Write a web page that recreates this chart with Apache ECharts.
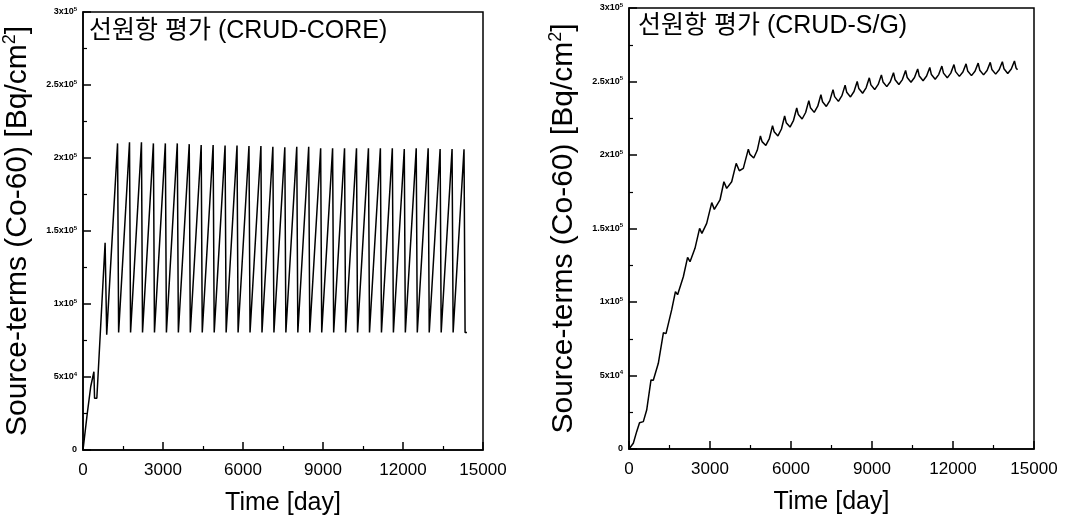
<!DOCTYPE html>
<html>
<head>
<meta charset="utf-8">
<script src="https://cdn.jsdelivr.net/npm/echarts@6/dist/echarts.min.js"></script>
<style>
html,body{margin:0;padding:0;background:#fff;}
#c{width:1068px;height:522px;}
</style>
</head>
<body>
<div id="c"></div>
<script>
// ---------------- data ----------------
const xTickValues = [0, 3000, 6000, 9000, 12000, 15000];
const xTickLabels = ['0', '3000', '6000', '9000', '12000', '15000'];
const yTickValues = [0, 50000, 100000, 150000, 200000, 250000, 300000];
const yTickMant = ['0', '5x10', '1x10', '1.5x10', '2x10', '2.5x10', '3x10'];
const yTickExp = ['', '4', '5', '5', '5', '5', '5'];

const titleLeft = '선원항 평가 (CRUD-CORE)';
const titleRight = '선원항 평가 (CRUD-S/G)';
const xTitle = 'Time [day]';

// CRUD-CORE (left)
const coreDays = [0, 160, 290, 409, 433, 519, 829, 889, 930,
  1296, 1336, 1406, 1744, 1784, 1854, 2192, 2232, 2302, 2640, 2680, 2750,
  3088, 3128, 3198, 3536, 3576, 3646, 3984, 4024, 4094, 4432, 4472, 4542,
  4880, 4920, 4990, 5328, 5368, 5438, 5776, 5816, 5886, 6224, 6264, 6334,
  6672, 6712, 6782, 7120, 7160, 7230, 7568, 7608, 7678, 8016, 8056, 8126,
  8464, 8504, 8574, 8912, 8952, 9022, 9360, 9400, 9470, 9808, 9848, 9918,
  10256, 10296, 10366, 10704, 10744, 10814, 11152, 11192, 11262, 11600, 11640, 11710,
  12048, 12088, 12158, 12496, 12536, 12606, 12944, 12984, 13054, 13392, 13432, 13502,
  13840, 13880, 13950, 14288, 14328, 14398];
const coreValues = [0, 25000, 43500, 53600, 35400, 35400, 142000, 79000, 79000,
  210000, 80500, 80500, 210700, 80500, 80500, 210700, 80500, 80500, 210000, 80500, 80500,
  210000, 80500, 80500, 210000, 80500, 80500, 209500, 80500, 80500, 208900, 80500, 80500,
  208900, 80500, 80500, 208500, 80500, 80500, 208500, 80500, 80500, 208200, 80500, 80500,
  208200, 80500, 80500, 207700, 80500, 80500, 207300, 80500, 80500, 207700, 80500, 80500,
  207700, 80500, 80500, 206600, 80500, 80500, 206600, 80500, 80500, 206600, 80500, 80500,
  206600, 80500, 80500, 206600, 80500, 80500, 206600, 80500, 80500, 206600, 80500, 80500,
  206200, 80500, 80500, 206600, 80500, 80500, 206600, 80500, 80500, 206200, 80500, 80500,
  206200, 80500, 80500, 206000, 80500, 80500];

// CRUD-S/G (right)
const sgDays = [0, 160, 284,
  390, 530, 655,
  815, 900, 1086,
  1275, 1370, 1580,
  1720, 1800, 2012,
  2170, 2260, 2444,
  2615, 2700, 2877,
  3065, 3160, 3370,
  3515, 3618, 3803,
  3970, 4086, 4234,
  4420, 4480, 4620, 4750,
  4868, 4928, 5068, 5198,
  5316, 5376, 5516, 5646,
  5764, 5824, 5964, 6094,
  6212, 6272, 6412, 6542,
  6660, 6720, 6860, 6990,
  7108, 7168, 7308, 7438,
  7556, 7616, 7756, 7886,
  8004, 8064, 8204, 8334,
  8452, 8512, 8652, 8782,
  8900, 8960, 9100, 9230,
  9348, 9408, 9548, 9678,
  9796, 9856, 9996, 10126,
  10244, 10304, 10444, 10574,
  10692, 10752, 10892, 11022,
  11140, 11200, 11340, 11470,
  11588, 11648, 11788, 11918,
  12036, 12096, 12236, 12366,
  12484, 12544, 12684, 12814,
  12932, 12992, 13132, 13262,
  13380, 13440, 13580, 13710,
  13828, 13888, 14028, 14158,
  14276, 14336, 14390];
const sgValues = [0, 3900, 11800,
  17800, 18600, 26500,
  47000, 46800, 58300,
  79100, 78500, 94600,
  107000, 105000, 117200,
  130400, 127400, 136500,
  150100, 146700, 153500,
  167600, 163000, 169400,
  181800, 177300, 181800,
  194300, 189300, 190900,
  204000, 200400, 198000, 203200,
  213000, 209100, 206500, 211200,
  220000, 215800, 213000, 217700,
  226500, 222000, 219000, 223600,
  232000, 227500, 224500, 228900,
  237000, 232200, 229000, 233200,
  241000, 236200, 233000, 237000,
  244500, 239700, 236500, 240400,
  247500, 242700, 239500, 243200,
  250000, 245200, 242000, 245700,
  252500, 247700, 244500, 248000,
  254500, 249700, 246500, 249800,
  256000, 251200, 248000, 251300,
  257500, 252700, 249500, 252700,
  258500, 253700, 250500, 253700,
  259500, 254700, 251500, 254700,
  260500, 255700, 252500, 255700,
  261500, 256700, 253500, 256500,
  262000, 257200, 254000, 257000,
  262500, 257700, 254500, 257500,
  263000, 258200, 255000, 258000,
  263500, 258700, 255500, 258500,
  264000, 259200, 258000];

// ---------------- chart ----------------
const FONT = '"Liberation Sans", Arial, "Noto Sans CJK KR", sans-serif';
const zip = (a, b) => a.map((d, i) => [d, b[i]]);

function xAxisCfg(gi) {
  return {
    gridIndex: gi, type: 'value', min: 0, max: 15000, interval: 3000,
    axisLine: { show: true, lineStyle: { color: '#000', width: 1.5 } },
    axisTick: { show: true, inside: true, length: 8, lineStyle: { color: '#000', width: 1.5 } },
    minorTick: { show: true, splitNumber: 2, length: 4, lineStyle: { color: '#000', width: 1.2 } },
    splitLine: { show: false },
    axisLabel: {
      fontSize: 17, color: '#000', fontFamily: FONT, margin: 12,
      formatter: v => { const i = xTickValues.indexOf(v); return i >= 0 ? xTickLabels[i] : ''; }
    },
    name: xTitle, nameLocation: 'middle', nameGap: 41,
    nameTextStyle: { fontSize: 25, color: '#000', fontFamily: FONT }
  };
}
function yAxisCfg(gi) {
  return {
    gridIndex: gi, type: 'value', min: 0, max: 300000, interval: 50000,
    axisLine: { show: true, lineStyle: { color: '#000', width: 1.5 } },
    axisTick: { show: true, inside: true, length: 8, lineStyle: { color: '#000', width: 1.5 } },
    minorTick: { show: true, splitNumber: 2, length: 4, lineStyle: { color: '#000', width: 1.2 } },
    splitLine: { show: false },
    axisLabel: {
      margin: 6,
      formatter: v => {
        const i = yTickValues.indexOf(v);
        if (i < 0) return '';
        return yTickExp[i] ? '{m|' + yTickMant[i] + '}{s|' + yTickExp[i] + '}' : '{m|' + yTickMant[i] + '}';
      },
      rich: {
        m: { fontSize: 9, fontWeight: 'bold', color: '#000', fontFamily: FONT, lineHeight: 12 },
        s: { fontSize: 6, fontWeight: 'bold', color: '#000', fontFamily: FONT, verticalAlign: 'top', lineHeight: 12 }
      }
    },
    name: '{a|Source-terms (Co-60) [Bq/cm}{s|2}{a|]}',
    nameLocation: 'middle', nameGap: 48,
    nameTextStyle: {
      color: '#000',
      rich: {
        a: { fontSize: 30, color: '#000', fontFamily: FONT, lineHeight: 34 },
        s: { fontSize: 18, color: '#000', fontFamily: FONT, verticalAlign: 'top', lineHeight: 34 }
      }
    }
  };
}

const chart = echarts.init(document.getElementById('c'), null, { renderer: 'canvas' });
chart.setOption({
  animation: false,
  backgroundColor: '#fff',
  title: [
    { text: titleLeft, left: 89, top: 19, padding: 0,
      textStyle: { fontSize: 25, fontWeight: 'normal', color: '#000', fontFamily: FONT } },
    { text: titleRight, left: 638, top: 14, padding: 0,
      textStyle: { fontSize: 25, fontWeight: 'normal', color: '#000', fontFamily: FONT } }
  ],
  grid: [
    { left: 78, top: 12, width: 405, height: 438, show: true, borderColor: '#000', borderWidth: 1.5, containLabel: false },
    { left: 629, top: 8, width: 405, height: 441, show: true, borderColor: '#000', borderWidth: 1.5, containLabel: false }
  ],
  xAxis: [xAxisCfg(0), xAxisCfg(1)],
  yAxis: [yAxisCfg(0), yAxisCfg(1)],
  series: [
    { type: 'line', xAxisIndex: 0, yAxisIndex: 0, data: zip(coreDays, coreValues),
      showSymbol: false, symbol: 'none', lineStyle: { color: '#000', width: 1.5 } },
    { type: 'line', xAxisIndex: 1, yAxisIndex: 1, data: zip(sgDays, sgValues),
      showSymbol: false, symbol: 'none', lineStyle: { color: '#000', width: 1.5 } }
  ]
});
</script>
</body>
</html>
